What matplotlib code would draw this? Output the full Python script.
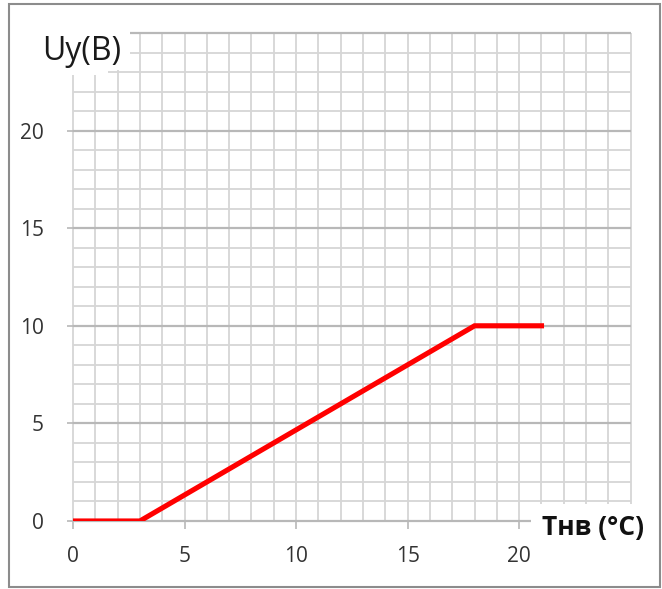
import matplotlib
matplotlib.use('Agg')
import matplotlib.pyplot as plt
from matplotlib.patches import Rectangle
import numpy as np

plt.rcParams['font.family'] = ['Open Sans', 'DejaVu Sans']

# characteristic: control voltage vs outdoor temperature
t_out = [0, 3, 18, 21]
u_ctrl = [0, 0, 10, 10]
x_ticks = [0, 5, 10, 15, 20]
y_ticks = [0, 5, 10, 15, 20]

fig = plt.figure(figsize=(6.62, 5.89), dpi=100)
ax = fig.add_axes([73 / 662, 68 / 589, 557.7 / 662, 488 / 589])
ax.set_xlim(0, 25)
ax.set_ylim(0, 25)

# grid (drawn by hand so the edge lines are not clipped)
ax.vlines(np.arange(0, 26), 0, 25, color='#d6d6d6', lw=1.3, zorder=1, clip_on=False)
minor_y = [v for v in range(1, 26) if v % 5]
ax.hlines(minor_y, 0, 25, color='#d6d6d6', lw=1.3, zorder=1, clip_on=False)
ax.hlines([5, 10, 15, 20, 25], 0, 25, color='#b8b8b8', lw=1.6, zorder=1.5, clip_on=False)
ax.hlines([0], 0, 25, color='#b8b8b8', lw=1.6, zorder=1.5, clip_on=False)

for s in ax.spines.values():
    s.set_visible(False)

ax.set_xticks(x_ticks)
ax.set_yticks(y_ticks)
ax.tick_params(axis='x', length=6, width=1.2, color='#b8b8b8', pad=12,
               labelsize=15, labelcolor='#333333')
ax.tick_params(axis='y', length=4, width=1.2, color='#b8b8b8', pad=17,
               labelsize=15, labelcolor='#333333')

ax.plot(t_out, u_ctrl, color='#ff0000', lw=3.7, zorder=4, solid_joinstyle='miter')

# white areas behind the axis titles
ax.add_patch(Rectangle((-3.5, 23.1), 3.5 + 2.56, 3.0, facecolor='white',
                       edgecolor='none', zorder=3, clip_on=False))
ax.add_patch(Rectangle((-3.5, 22.85), 3.5 + 1.57, 3.0, facecolor='white',
                       edgecolor='none', zorder=3, clip_on=False))
ax.add_patch(Rectangle((20.55, -2.0), 5.5, 2.87, facecolor='white',
                       edgecolor='none', zorder=3, clip_on=False))

ax.text(82 / 662, 538 / 589, 'Uy(B)', transform=fig.transFigure, fontsize=23,
        ha='center', va='center', color='#1a1a1a', zorder=5)
ax.text(593 / 662, 62 / 589, 'Тнв (°C)', transform=fig.transFigure, fontsize=19,
        fontweight='bold', ha='center', va='center', color='#111111', zorder=5)

# outer frame
fig.patches.append(Rectangle((9 / 662, 2 / 589), 651 / 662, 583 / 589,
                             transform=fig.transFigure, fill=False,
                             edgecolor='#8c8c8c', lw=1.5))

fig.savefig('out.png', dpi=100)
